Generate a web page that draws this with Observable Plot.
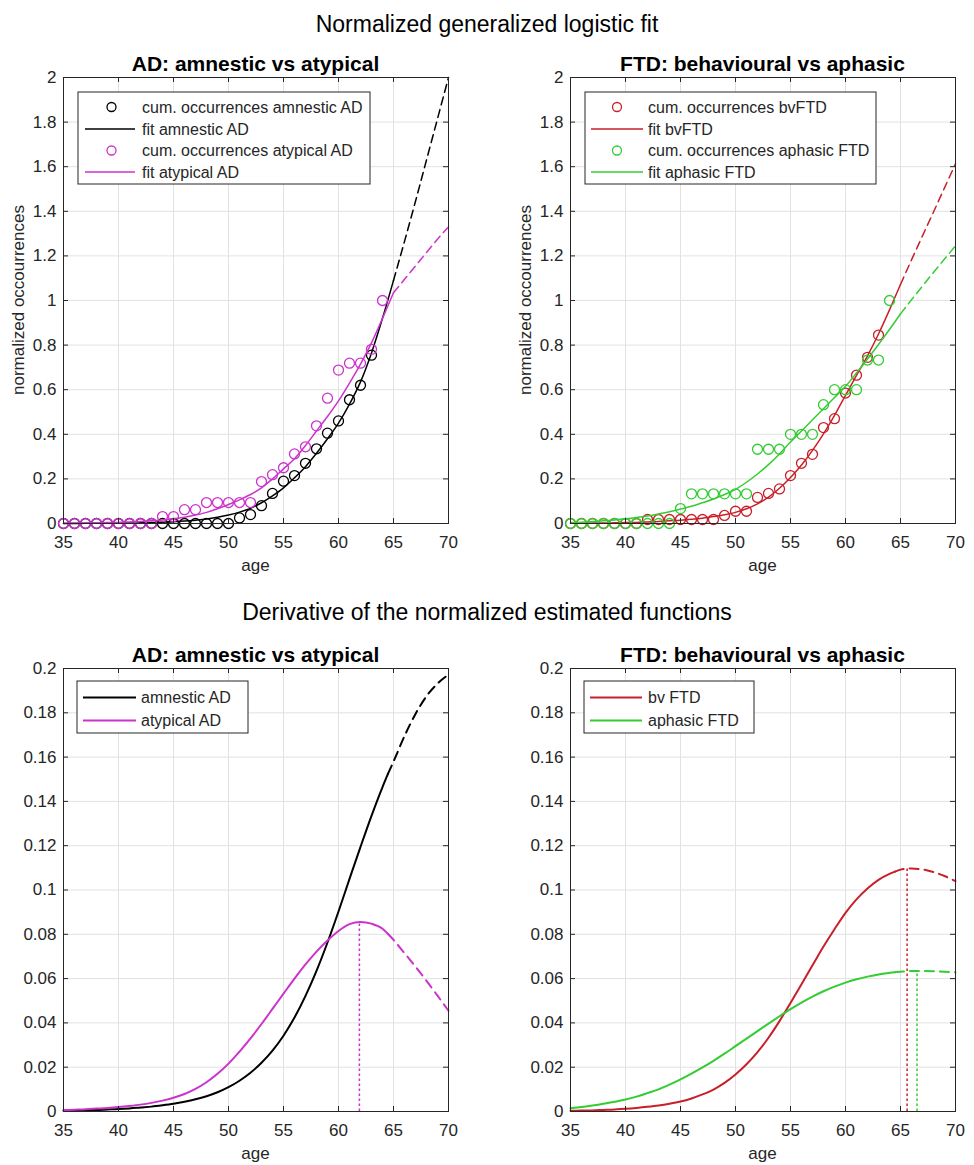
<!DOCTYPE html>
<html>
<head>
<meta charset="utf-8">
<script src="https://cdn.jsdelivr.net/npm/d3@7"></script>
<script src="https://cdn.jsdelivr.net/npm/@observablehq/plot@0.6"></script>
<style>
  html, body { margin: 0; padding: 0; background: #fff; }
  #root { position: relative; width: 974px; height: 1165px; overflow: hidden; background: #fff; }
  .panel { position: absolute; }
  #overlay { position: absolute; left: 0; top: 0; pointer-events: none; }
</style>
</head>
<body>
<div id="root"></div>
<script>
// ---------------- DATA ----------------
const xTicks = [35, 40, 45, 50, 55, 60, 65, 70];
const topYTicks = [0, 0.2, 0.4, 0.6, 0.8, 1, 1.2, 1.4, 1.6, 1.8, 2];
const bottomYTicks = [0, 0.02, 0.04, 0.06, 0.08, 0.1, 0.12, 0.14, 0.16, 0.18, 0.2];

// ages of the cumulative occurrences (circles); null = no visible marker
const pointAges = [35,36,37,38,39,40,41,42,43,44,45,46,47,48,49,50,51,52,53,54,55,56,57,58,59,60,61,62,63,64];
const amnesticPts = [0,0,0,0,0,0,0,0,0,0,0,0,0,0,0,0,0.025,0.04,0.08,0.135,0.19,0.215,0.27,0.335,0.405,0.46,0.555,0.62,0.755,null];
const atypicalPts = [0,0,0,0,0,0,0,0,0,0.031,0.031,0.062,0.062,0.094,0.094,0.094,0.094,0.094,0.188,0.219,0.25,0.312,0.344,0.438,0.562,0.688,0.719,0.719,0.781,1.0];
const bvPts = [0,0,0,0,0,0,0,0.018,0.018,0.018,0.018,0.018,0.018,0.018,0.036,0.055,0.055,0.117,0.135,0.155,0.215,0.27,0.31,0.43,0.47,0.585,0.665,0.745,0.845,null];
const aphasicPts = [0,0,0,0,0,0,0,0,0,0,0.067,0.133,0.133,0.133,0.133,0.133,0.133,0.333,0.333,0.333,0.4,0.4,0.4,0.533,0.6,0.6,0.6,0.733,0.733,1.0];

// fitted curves (solid up to 65, dashed extrapolation beyond)
const fitAges = [35,36,37,38,39,40,41,42,43,44,45,46,47,48,49,50,51,52,53,54,55,56,57,58,59,60,61,62,63,64,65,66,67,68,69,70];
const amnesticFit = [0.000,0.000,0.001,0.001,0.001,0.002,0.002,0.003,0.004,0.006, 0.008,0.011,0.015,0.020,0.028,0.038,0.051,0.068,0.093,0.124, 0.160,0.205,0.255,0.315,0.380,0.450,0.535,0.635,0.765,0.920, 1.090,1.265,1.445,1.630,1.815,2.000];
const atypicalFit = [0.001,0.002,0.002,0.003,0.004,0.005,0.007,0.009,0.012,0.016, 0.021,0.028,0.038,0.050,0.066,0.085,0.106,0.130,0.160,0.200, 0.245,0.290,0.350,0.415,0.480,0.550,0.630,0.715,0.810,0.920, 1.035,1.095,1.155,1.215,1.275,1.330];
const bvFit = [0.001,0.001,0.002,0.002,0.003,0.004,0.005,0.007,0.009,0.012, 0.015,0.019,0.024,0.031,0.039,0.050,0.066,0.088,0.118,0.158, 0.206,0.262,0.328,0.402,0.485,0.575,0.664,0.752,0.850,0.958, 1.072,1.182,1.290,1.397,1.505,1.613];
const aphasicFit = [0.004,0.006,0.009,0.012,0.016,0.021,0.027,0.034,0.043,0.053, 0.065,0.077,0.093,0.110,0.130,0.153,0.185,0.222,0.264,0.312, 0.365,0.415,0.465,0.515,0.565,0.615,0.675,0.738,0.803,0.870, 0.940,1.003,1.065,1.126,1.186,1.245];
const fitSplit = 65;

// derivatives (solid up to 64.5, dashed beyond)
const derivAges = [35,36,37,38,39,40,41,42,43,44,45,46,47,48,49,50,51,52,53,54,55,56,57,58,59,60,61,62,63,64,64.5,65,66,67,68,69,70];
const amnesticDeriv = [0.0004,0.0005,0.0006,0.0007,0.0009,0.0011,0.0014,0.0018,0.0022,0.0028, 0.0035,0.0044,0.0055,0.0069,0.0087,0.0110,0.0139,0.0175,0.0220,0.0275, 0.0342,0.0424,0.0522,0.0635,0.0763,0.0903,0.1050,0.1195,0.1335,0.1465, 0.1525, 0.1580,0.1695,0.1795,0.1875,0.1932,0.1972];
const atypicalDeriv = [0.0006,0.0008,0.0010,0.0013,0.0016,0.0020,0.0025,0.0031,0.0039,0.0049, 0.0062,0.0079,0.0102,0.0132,0.0170,0.0216,0.0270,0.0330,0.0395,0.0463, 0.0532,0.0600,0.0664,0.0722,0.0772,0.0815,0.0846,0.0856,0.0848,0.0825, 0.0802, 0.0775,0.0715,0.0654,0.0590,0.0523,0.0455];
const bvDeriv = [0.0003,0.0004,0.0005,0.0007,0.0009,0.0012,0.0016,0.0021,0.0027,0.0035, 0.0045,0.0059,0.0077,0.0099,0.0129,0.0167,0.0213,0.0268,0.0333,0.0408, 0.0490,0.0575,0.0660,0.0745,0.0823,0.0897,0.0958,0.1007,0.1046,0.1073, 0.1083, 0.1092,0.1097,0.1093,0.1081,0.1063,0.1040];
const aphasicDeriv = [0.0015,0.0020,0.0027,0.0035,0.0044,0.0054,0.0067,0.0083,0.0100,0.0121, 0.0145,0.0171,0.0199,0.0229,0.0261,0.0295,0.0329,0.0363,0.0397,0.0430, 0.0462,0.0492,0.0519,0.0543,0.0564,0.0582,0.0597,0.0609,0.0619,0.0626, 0.0629, 0.0631,0.0634,0.0634,0.0633,0.0631,0.0628];
const derivSplit = 64.5;

// peaks of the derivatives (dotted vertical markers)
const atypicalPeak = [{age: 61.9, v: 0.0856}];
const bvPeak = [{age: 65.6, v: 0.1097}];
const aphasicPeak = [{age: 66.5, v: 0.0634}];

// ---------------- STYLE ----------------
const FONT = "'Liberation Sans', Arial, Helvetica, sans-serif";
const AX = "#262626";
const GRID = "#e2e2e2";
const COL = {amnestic: "#000000", atypical: "#cc33cc", bv: "#c8202a", aphasic: "#33cc33"};
const fmt = d => String(Math.round(d * 100) / 100);

const toRows = (ages, vals) => ages.map((a, i) => ({age: a, v: vals[i]}));
const solidPart = (rows, s) => rows.filter(d => d.age <= s);
const dashPart = (rows, s) => rows.filter(d => d.age >= s);

function fitMarks(ptVals, fitVals, color) {
  const pts = toRows(pointAges, ptVals).filter(d => d.v != null);
  const fit = toRows(fitAges, fitVals);
  return [
    Plot.dot(pts, {x: "age", y: "v", r: 5, stroke: color, strokeWidth: 1.3, fill: "none"}),
    Plot.line(solidPart(fit, fitSplit), {x: "age", y: "v", stroke: color, strokeWidth: 1.5, curve: "monotone-x"}),
    Plot.line(dashPart(fit, fitSplit), {x: "age", y: "v", stroke: color, strokeWidth: 1.5, strokeDasharray: "8,5", curve: "monotone-x"})
  ];
}
function derivMarks(vals, color) {
  const rows = toRows(derivAges, vals);
  return [
    Plot.line(solidPart(rows, derivSplit), {x: "age", y: "v", stroke: color, strokeWidth: 2, curve: "monotone-x"}),
    Plot.line(dashPart(rows, derivSplit), {x: "age", y: "v", stroke: color, strokeWidth: 2, strokeDasharray: "9,6", curve: "monotone-x"})
  ];
}
function peakMark(peak, color) {
  return Plot.ruleX(peak, {x: "age", y1: 0, y2: "v", stroke: color, strokeWidth: 1.5, strokeDasharray: "2.5,2.5"});
}

function makePanel({W, H, mL, mR, mT, mB, yDomain, yTicks, marks}) {
  const pw = W - mL - mR, ph = H - mT - mB;
  return Plot.plot({
    width: W, height: H, marginLeft: mL, marginRight: mR, marginTop: mT, marginBottom: mB,
    style: {fontFamily: FONT, fontSize: "17px", color: AX, background: "transparent", overflow: "visible"},
    x: {domain: [35, 70]},
    y: {domain: yDomain},
    marks: [
      Plot.gridX(xTicks, {stroke: GRID, strokeOpacity: 1, strokeWidth: 1}),
      Plot.gridY(yTicks, {stroke: GRID, strokeOpacity: 1, strokeWidth: 1}),
      ...marks,
      Plot.frame({stroke: AX, strokeWidth: 1}),
      Plot.ruleX(xTicks, {x: d => d, insetTop: ph - 5, stroke: AX}),
      Plot.ruleX(xTicks, {x: d => d, insetBottom: ph - 5, stroke: AX}),
      Plot.ruleY(yTicks, {y: d => d, insetRight: pw - 5, stroke: AX}),
      Plot.ruleY(yTicks, {y: d => d, insetLeft: pw - 5, stroke: AX}),
      Plot.axisX(xTicks, {tickSize: 0, tickPadding: 12, label: null, tickFormat: fmt}),
      Plot.axisY(yTicks, {tickSize: 0, tickPadding: 7, label: null, tickFormat: fmt})
    ]
  });
}

const root = document.getElementById("root");
function place(node, left, top) {
  const div = document.createElement("div");
  div.className = "panel";
  div.style.left = left + "px";
  div.style.top = top + "px";
  div.appendChild(node);
  root.appendChild(div);
}

// Top-left
place(makePanel({W: 490, H: 510, mL: 63, mR: 42, mT: 17, mB: 47, yDomain: [0, 2], yTicks: topYTicks,
  marks: [...fitMarks(amnesticPts, amnesticFit, COL.amnestic), ...fitMarks(atypicalPts, atypicalFit, COL.atypical)]}), 0, 60);
// Top-right
place(makePanel({W: 484, H: 510, mL: 80, mR: 19, mT: 17, mB: 47, yDomain: [0, 2], yTicks: topYTicks,
  marks: [...fitMarks(bvPts, bvFit, COL.bv), ...fitMarks(aphasicPts, aphasicFit, COL.aphasic)]}), 490, 60);
// Bottom-left
place(makePanel({W: 490, H: 520, mL: 63, mR: 42, mT: 28, mB: 49, yDomain: [0, 0.2], yTicks: bottomYTicks,
  marks: [peakMark(atypicalPeak, COL.atypical), ...derivMarks(amnesticDeriv, COL.amnestic), ...derivMarks(atypicalDeriv, COL.atypical)]}), 0, 640);
// Bottom-right
place(makePanel({W: 484, H: 520, mL: 80, mR: 19, mT: 28, mB: 49, yDomain: [0, 0.2], yTicks: bottomYTicks,
  marks: [peakMark(bvPeak, COL.bv), peakMark(aphasicPeak, COL.aphasic), ...derivMarks(bvDeriv, COL.bv), ...derivMarks(aphasicDeriv, COL.aphasic)]}), 490, 640);

// ---------------- OVERLAY: titles, labels, legends ----------------
const svg = d3.select(root).append("svg").attr("id", "overlay")
  .attr("width", 974).attr("height", 1165)
  .style("font-family", FONT);

function text(str, x, y, size, opts = {}) {
  const t = svg.append("text").attr("x", x).attr("y", y)
    .attr("font-size", size).attr("text-anchor", opts.anchor || "middle")
    .attr("fill", opts.fill || "#000").text(str);
  if (opts.bold) t.attr("font-weight", "bold");
  if (opts.rotate) t.attr("transform", `rotate(${opts.rotate},${x},${y})`);
  return t;
}

text("Normalized generalized logistic fit", 487, 32, 23);
text("AD: amnestic vs atypical", 255.5, 71, 21, {bold: true});
text("FTD: behavioural vs aphasic", 762.5, 71, 21, {bold: true});
text("age", 255.5, 571, 17, {fill: AX});
text("age", 762.5, 571, 17, {fill: AX});
text("normalized occourrences", 24, 300, 17, {fill: AX, rotate: -90});
text("normalized occourrences", 531, 300, 17, {fill: AX, rotate: -90});
text("Derivative of the normalized estimated functions", 487, 620, 23);
text("AD: amnestic vs atypical", 255.5, 662, 21, {bold: true});
text("FTD: behavioural vs aphasic", 762.5, 662, 21, {bold: true});
text("age", 255.5, 1159, 17, {fill: AX});
text("age", 762.5, 1159, 17, {fill: AX});

function legend({box, rowYs, lineX, markerX, textX, lw, entries}) {
  svg.append("rect").attr("x", box[0]).attr("y", box[1])
    .attr("width", box[2] - box[0]).attr("height", box[3] - box[1])
    .attr("fill", "#fff").attr("stroke", AX).attr("stroke-width", 1);
  entries.forEach((e, i) => {
    const y = rowYs[i];
    if (e.type === "dot") {
      svg.append("circle").attr("cx", markerX).attr("cy", y).attr("r", 4.5)
        .attr("fill", "none").attr("stroke", e.color).attr("stroke-width", 1.3);
    } else {
      svg.append("line").attr("x1", lineX[0]).attr("x2", lineX[1]).attr("y1", y).attr("y2", y)
        .attr("stroke", e.color).attr("stroke-width", lw);
    }
    svg.append("text").attr("x", textX).attr("y", y).attr("dy", "0.36em")
      .attr("font-size", 16).attr("fill", AX).text(e.label);
  });
}

legend({box: [78, 92, 370, 184], rowYs: [107, 129, 150.5, 172], lineX: [85, 135], markerX: 111.5, textX: 142, lw: 1.5,
  entries: [
    {type: "dot", color: COL.amnestic, label: "cum. occurrences amnestic AD"},
    {type: "line", color: COL.amnestic, label: "fit amnestic AD"},
    {type: "dot", color: COL.atypical, label: "cum. occurrences atypical AD"},
    {type: "line", color: COL.atypical, label: "fit atypical AD"}
  ]});
legend({box: [585, 92, 876, 184], rowYs: [107, 129, 150.5, 172], lineX: [591, 643], markerX: 617, textX: 648, lw: 1.5,
  entries: [
    {type: "dot", color: COL.bv, label: "cum. occurrences bvFTD"},
    {type: "line", color: COL.bv, label: "fit bvFTD"},
    {type: "dot", color: COL.aphasic, label: "cum. occurrences aphasic FTD"},
    {type: "line", color: COL.aphasic, label: "fit aphasic FTD"}
  ]});
legend({box: [77, 681, 248, 733], rowYs: [697.5, 720.5], lineX: [83, 136], markerX: 0, textX: 141, lw: 2,
  entries: [
    {type: "line", color: COL.amnestic, label: "amnestic AD"},
    {type: "line", color: COL.atypical, label: "atypical AD"}
  ]});
legend({box: [584, 681, 754, 733], rowYs: [697.5, 720.5], lineX: [590, 642], markerX: 0, textX: 648, lw: 2,
  entries: [
    {type: "line", color: COL.bv, label: "bv FTD"},
    {type: "line", color: COL.aphasic, label: "aphasic FTD"}
  ]});
</script>
</body>
</html>
